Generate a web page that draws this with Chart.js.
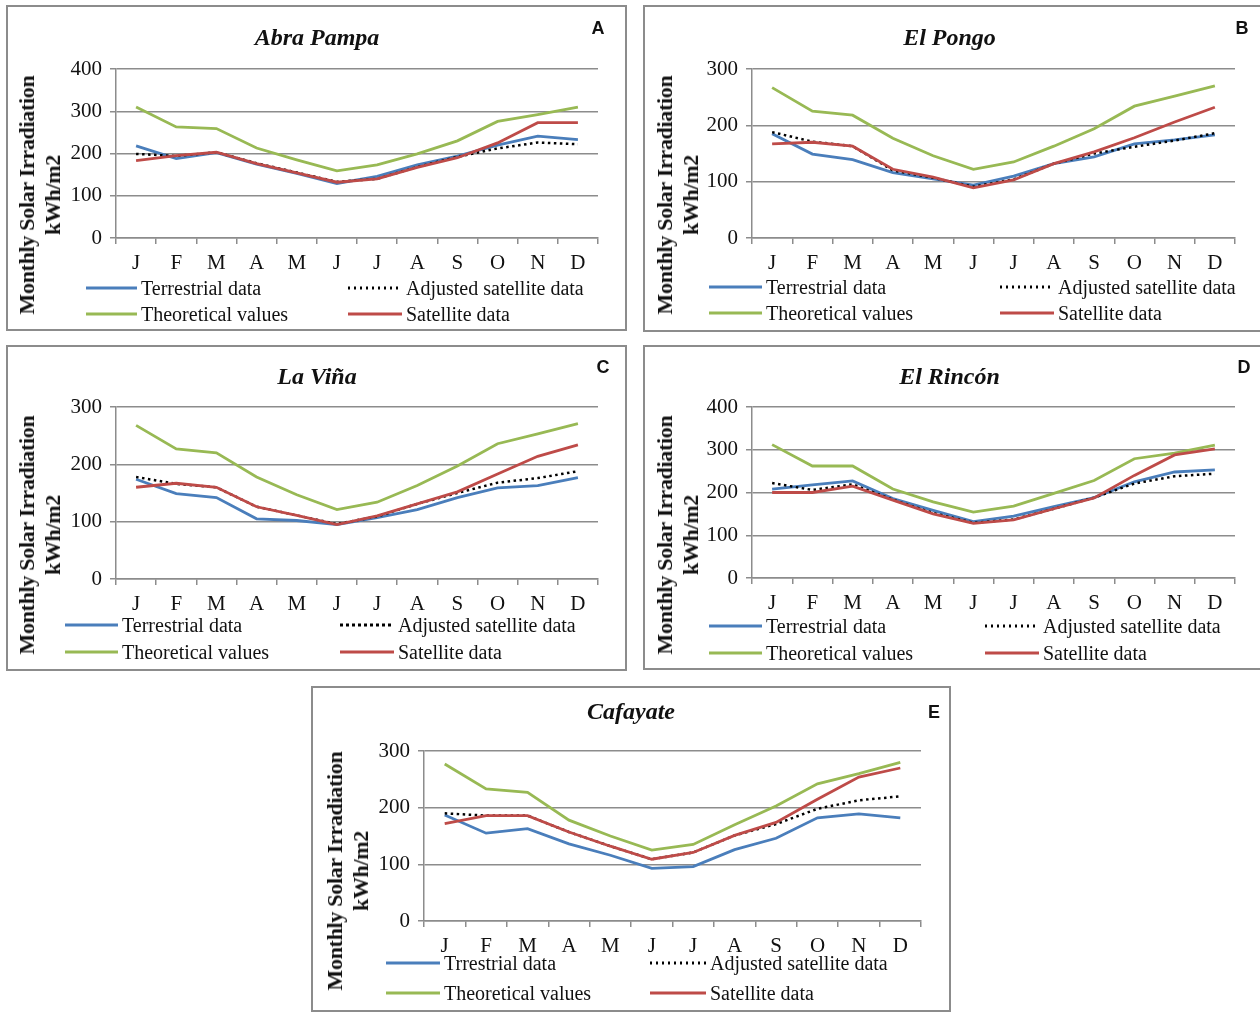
<!DOCTYPE html>
<html>
<head>
<meta charset="utf-8">
<script src="https://cdn.jsdelivr.net/npm/chart.js@4.4.1/dist/chart.umd.min.js"></script>
<style>
body { margin:0; width:1260px; height:1012px; background:#fff; overflow:hidden; position:relative; font-family:'Liberation Serif', serif; color:#111; }
.panel { position:absolute; border:2px solid #8c8c8c; box-sizing:border-box; }
canvas { position:absolute; }
.ytitle { position:absolute; transform:translate(-50%,-50%) rotate(-90deg); font-weight:bold; font-size:22px; line-height:26px; text-align:center; white-space:nowrap; letter-spacing:-0.3px; }
.letter { position:absolute; transform:translate(-50%,-50%); font-family:'Liberation Sans', sans-serif; font-weight:bold; font-size:18px; }
.leg { position:absolute; transform:translateY(-50%); font-size:20px; white-space:nowrap; line-height:24px; }
.sample { position:absolute; transform:translateY(-50%); height:3px; }
</style>
</head>
<body>
<script>
const months = ['J', 'F', 'M', 'A', 'M', 'J', 'J', 'A', 'S', 'O', 'N', 'D'];

// A - Abra Pampa
const abraTerrestrial = [218, 188, 202, 175, 153, 129, 146, 173, 194, 220, 241, 233];
const abraAdjusted = [199, 194, 203, 177, 155, 133, 140, 168, 192, 212, 226, 222];
const abraTheoretical = [310, 263, 259, 213, 185, 159, 173, 199, 230, 276, 292, 310];
const abraSatellite = [183, 195, 203, 176, 154, 132, 140, 167, 190, 225, 273, 273];

// B - El Pongo
const pongoTerrestrial = [185, 149, 139, 116, 105, 94, 110, 132, 144, 167, 174, 183];
const pongoAdjusted = [188, 171, 163, 120, 107, 91, 104, 132, 150, 162, 173, 186];
const pongoTheoretical = [267, 225, 218, 177, 146, 122, 135, 163, 194, 234, 252, 270];
const pongoSatellite = [167, 170, 163, 122, 108, 89, 103, 132, 153, 178, 206, 232];

// C - La Viña
const vinaTerrestrial = [174, 149, 142, 105, 102, 95, 107, 121, 142, 159, 163, 177];
const vinaAdjusted = [178, 166, 160, 126, 111, 96, 109, 131, 150, 168, 176, 188];
const vinaTheoretical = [268, 227, 220, 178, 147, 121, 134, 163, 197, 236, 253, 271];
const vinaSatellite = [160, 167, 160, 126, 111, 95, 110, 131, 152, 183, 214, 234];

// D - El Rincón
const rinconTerrestrial = [208, 218, 227, 186, 158, 132, 145, 167, 188, 225, 248, 253];
const rinconAdjusted = [222, 206, 219, 183, 152, 129, 137, 162, 188, 221, 238, 244];
const rinconTheoretical = [312, 262, 262, 208, 178, 154, 168, 198, 228, 279, 292, 311];
const rinconSatellite = [200, 200, 215, 182, 150, 128, 136, 162, 187, 240, 288, 302];

// E - Cafayate
const cafayateTerrestrial = [187, 155, 163, 136, 116, 93, 96, 126, 146, 182, 189, 182];
const cafayateAdjusted = [190, 186, 186, 157, 132, 109, 121, 151, 171, 198, 213, 220];
const cafayateTheoretical = [277, 233, 227, 178, 150, 125, 135, 170, 203, 242, 260, 280];
const cafayateSatellite = [172, 186, 186, 157, 132, 109, 121, 151, 174, 215, 254, 270];

const stations = [
    { name: 'Abra Pampa', letter: 'A', yMax: 400, terr: 'Terrestrial data',
      data: [abraTerrestrial, abraAdjusted, abraTheoretical, abraSatellite] },
    { name: 'El Pongo', letter: 'B', yMax: 300, terr: 'Terrestrial data',
      data: [pongoTerrestrial, pongoAdjusted, pongoTheoretical, pongoSatellite] },
    { name: 'La Viña', letter: 'C', yMax: 300, terr: 'Terrestrial data',
      data: [vinaTerrestrial, vinaAdjusted, vinaTheoretical, vinaSatellite] },
    { name: 'El Rincón', letter: 'D', yMax: 400, terr: 'Terrestrial data',
      data: [rinconTerrestrial, rinconAdjusted, rinconTheoretical, rinconSatellite] },
    { name: 'Cafayate', letter: 'E', yMax: 300, terr: 'Trrestrial data',
      data: [cafayateTerrestrial, cafayateAdjusted, cafayateTheoretical, cafayateSatellite] }
];

// page layout of each panel (pixels)
const layouts = [
    { box: [6, 5, 621, 326], cv: [8, 6, 618, 324], pl: 28, pr: 28, yw: 80, tt: 18.6, tb: 15.6, pb: 52,
      yt: [40, 195], lt: [598, 28], rows: [288, 314], cols: [[86, 141], [348, 406]] },
    { box: [643, 5, 625, 327], cv: [644, 6, 616, 324], pl: 20, pr: 25, yw: 88, tt: 18.6, tb: 15.6, pb: 52,
      yt: [678, 195], lt: [1242, 28], rows: [287, 313], cols: [[709, 766], [1000, 1058]] },
    { box: [6, 345, 621, 326], cv: [8, 346, 618, 324], pl: 28, pr: 28, yw: 80, tt: 17.1, tb: 15.1, pb: 51,
      yt: [40, 535], lt: [603, 367], rows: [625, 652], cols: [[65, 122], [340, 398]] },
    { box: [643, 345, 625, 325], cv: [644, 346, 616, 324], pl: 20, pr: 25, yw: 88, tt: 17.1, tb: 15.1, pb: 52,
      yt: [678, 535], lt: [1244, 367], rows: [626, 653], cols: [[709, 766], [985, 1043]] },
    { box: [311, 686, 640, 326], cv: [312, 687, 638, 323], pl: 29, pr: 29, yw: 83, tt: 11.6, tb: 23.6, pb: 49,
      yt: [348, 871], lt: [934, 712], rows: [963, 993], cols: [[386, 444], [650, 710]] }
];

const seriesColors = ['#4A7EBB', '#000000', '#98B954', '#BE4B48'];
const seriesDash = [[], [2.5, 3.5], [], []];
const seriesOrder = [4, 3, 2, 1];
const axisColor = '#8c8c8c';
const serif = 'Liberation Serif';

function el(cls, left, top, html) {
    const d = document.createElement('div');
    d.className = cls;
    d.style.left = left + 'px';
    d.style.top = top + 'px';
    if (html !== undefined) d.innerHTML = html;
    document.body.appendChild(d);
    return d;
}

stations.forEach((st, i) => {
    const L = layouts[i];
    const names = [st.terr, 'Adjusted satellite data', 'Theoretical values', 'Satellite data'];

    const box = el('panel', L.box[0], L.box[1]);
    box.style.width = L.box[2] + 'px';
    box.style.height = L.box[3] + 'px';

    const canvas = document.createElement('canvas');
    canvas.width = L.cv[2];
    canvas.height = L.cv[3];
    canvas.style.left = L.cv[0] + 'px';
    canvas.style.top = L.cv[1] + 'px';
    document.body.appendChild(canvas);

    el('ytitle', L.yt[0], L.yt[1], 'Monthly Solar Irradiation<br>kWh/m2');
    el('letter', L.lt[0], L.lt[1], st.letter);

    // legend: two rows, two columns
    names.forEach((n, k) => {
        const row = Math.floor(k / 2);
        const col = L.cols[k % 2];
        const y = L.rows[row];
        const s = el('sample', col[0], y);
        s.style.width = (col[1] - col[0] - 4) + 'px';
        if (k === 1) {
            s.style.background = 'repeating-linear-gradient(to right, #000 0 2.5px, transparent 2.5px 6px)';
        } else {
            s.style.background = seriesColors[k];
        }
        el('leg', col[1], y, n);
    });

    new Chart(canvas.getContext('2d'), {
        type: 'line',
        data: {
            labels: months,
            datasets: st.data.map((d, k) => ({
                label: names[k],
                data: d,
                borderColor: seriesColors[k],
                borderWidth: k === 1 ? 2.5 : 2.8,
                borderDash: seriesDash[k],
                pointRadius: 0,
                tension: 0,
                fill: false,
                order: seriesOrder[k]
            }))
        },
        options: {
            responsive: false,
            animation: false,
            devicePixelRatio: 1,
            layout: { padding: { left: L.pl, right: L.pr, top: 0, bottom: L.pb } },
            plugins: {
                legend: { display: false },
                tooltip: { enabled: false },
                title: {
                    display: true,
                    text: st.name,
                    color: '#111',
                    font: { family: serif, size: 24, style: 'italic', weight: 'bold' },
                    padding: { top: L.tt, bottom: L.tb }
                }
            },
            scales: {
                x: {
                    offset: true,
                    grid: { offset: true, drawOnChartArea: false, tickLength: 6, color: axisColor, lineWidth: 1.5 },
                    border: { color: axisColor, width: 1.5 },
                    ticks: { color: '#111', font: { family: serif, size: 21 }, padding: 7, maxRotation: 0, autoSkip: false },
                    afterFit(scale) { scale.height = 40; }
                },
                y: {
                    min: 0,
                    max: st.yMax,
                    grid: { color: axisColor, lineWidth: 1.5, tickLength: 6 },
                    border: { color: axisColor, width: 1.5 },
                    ticks: { stepSize: 100, color: '#111', font: { family: serif, size: 21 }, padding: 8 },
                    afterFit(scale) { scale.width = L.yw; }
                }
            }
        }
    });
});
</script>
</body>
</html>
